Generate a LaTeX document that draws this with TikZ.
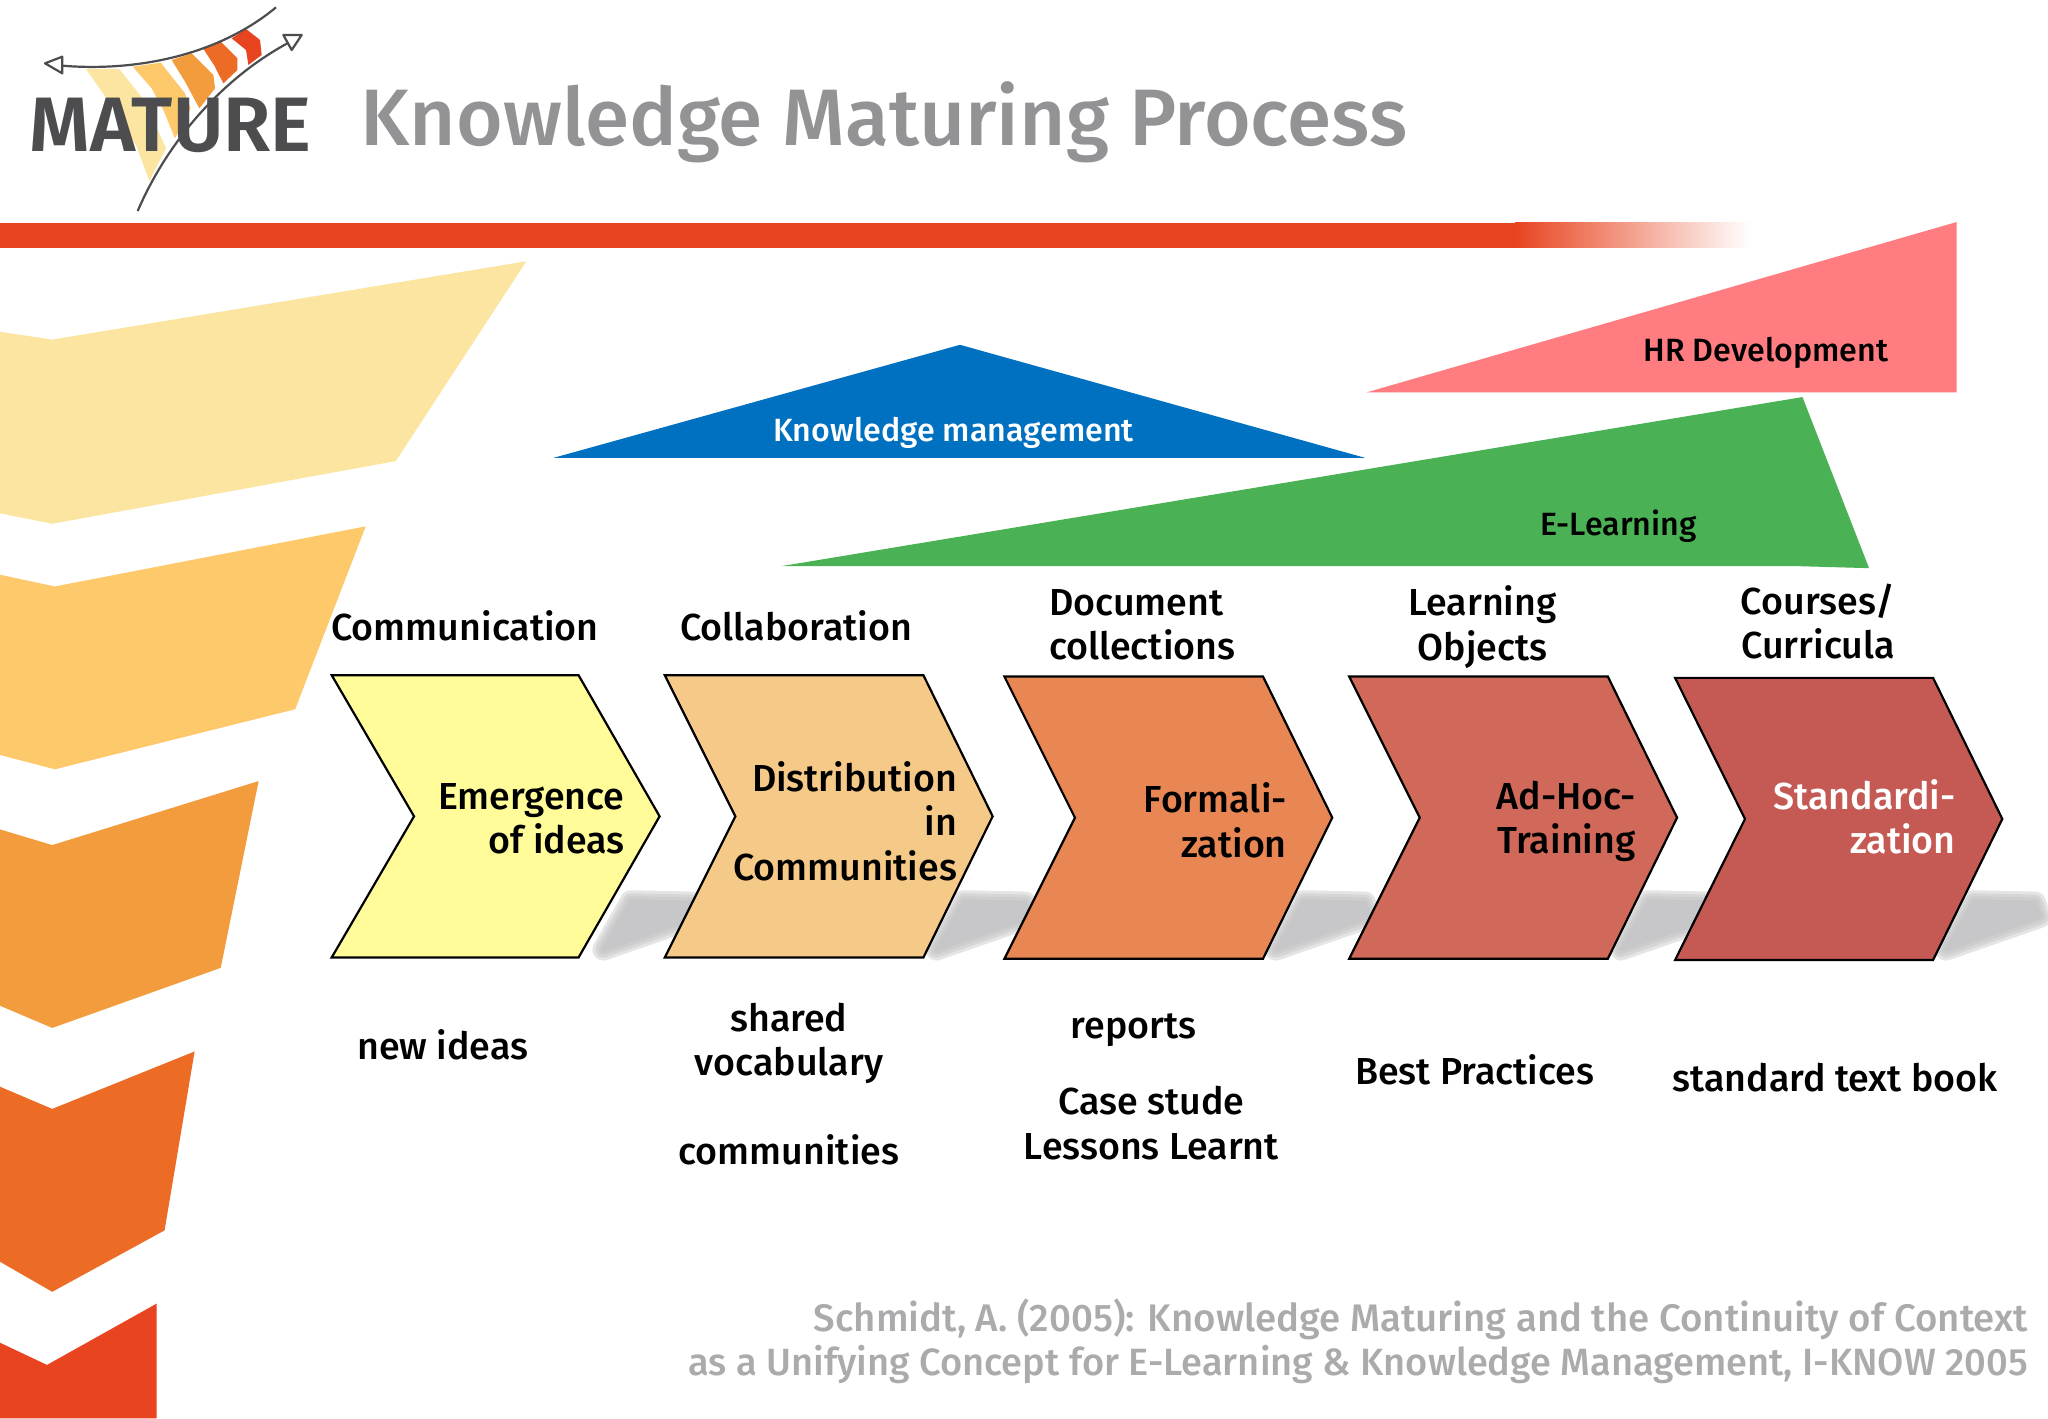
\documentclass[tikz,border=0pt]{standalone}
\usepackage{fontspec}
\setmainfont{Fira Sans}[UprightFont=* Medium,BoldFont=* SemiBold]
\definecolor{barred}{HTML}{E84420}
\definecolor{fa}{HTML}{FBE5A0}
\definecolor{fb}{HTML}{FDC96B}
\definecolor{fc}{HTML}{F39C3E}
\definecolor{fd}{HTML}{EC6B25}
\definecolor{fe}{HTML}{E8441F}
\definecolor{logogrey}{HTML}{4D4D4F}
\definecolor{titlegrey}{HTML}{939395}
\definecolor{citegrey}{HTML}{ABABAD}
\definecolor{shadowgrey}{HTML}{C0C0C2}
\definecolor{kmblue}{HTML}{0070C0}
\definecolor{hrpink}{HTML}{FF7C80}
\definecolor{elgreen}{HTML}{4AB154}
\definecolor{cha}{HTML}{FFFC99}
\definecolor{chb}{HTML}{F5C987}
\definecolor{chc}{HTML}{E88753}
\definecolor{chd}{HTML}{D0695A}
\definecolor{che}{HTML}{C55A55}
\tikzset{
  chev/.style={draw=black,line width=1.1pt,line join=miter},
  lab/.style={inner sep=0pt,font=\fontsize{18.8}{22.2}\selectfont,align=center},
  inchev/.style={inner sep=0pt,font=\fontsize{18.8}{22.2}\selectfont,align=right,anchor=east},
  tri/.style={inner sep=0pt,font=\fontsize{16.1}{19}\selectfont},
  logoline/.style={draw=logogrey,line width=1.1pt},
}
\newcommand{\shadowat}[1]{%
  \foreach \w in {11,8,5,2}{
    \begin{scope}[transparency group,opacity=.4]
    \draw[shadowgrey,fill=shadowgrey,line width=\w pt,line join=round]
      (#1-22,690) -- (#1+25,691) -- (#1+29,702) -- (#1-43,727) -- cycle;
    \end{scope}
  }}
\newcommand{\chevron}[6]{% fill, left, right(top), tip, notch, top, bottom
  \path[chev,fill=#1] (#2,#6) -- (#3,#6) -- (#4,{#6+108}) -- (#3,#6+216) -- (#2,#6+216) -- (#5,{#6+108}) -- cycle;}
\begin{document}
\begin{tikzpicture}[x=0.65306pt,y=-0.65306pt]
\useasboundingbox (0,0) rectangle (1568,1085.7);
\fill[white] (0,0) rectangle (1568,1085.7);
\begin{scope}
\clip (0,0) rectangle (1568,1085.7);
% bar
\fill[barred] (0,170.5) rectangle (1190,189.5);
\shade[left color=barred,right color=white,shading angle=90] (1160,170.5) rectangle (1340,189.5);
% funnel
\fill[fa] (0,254) -- (40,260) -- (403,200) -- (303,353) -- (40,401) -- (0,393) -- cycle;
\fill[fb] (0,440) -- (42,449) -- (280,403) -- (226,543) -- (42,589) -- (0,578) -- cycle;
\fill[fc] (0,635) -- (40,647) -- (198,598) -- (169,741) -- (40,787) -- (0,770) -- cycle;
\fill[fd] (0,832) -- (40,849) -- (149,805) -- (126,942) -- (40,989) -- (0,966) -- cycle;
\fill[fe] (0,1028) -- (36,1045) -- (120,998) -- (120,1086) -- (0,1086) -- cycle;
% shadows
\shadowat{505}\shadowat{760}\shadowat{1020}\shadowat{1284}\shadowat{1533}
\end{scope}
% triangles
\fill[kmblue] (424,350.5) -- (735,264) -- (1045,350.5) -- cycle;
\fill[hrpink] (1046,300.5) -- (1498,170) -- (1498,300.5) -- cycle;
\fill[elgreen] (598,433.5) -- (1380,304) -- (1431,435) -- (1378,433.5) -- cycle;
\node[tri,text=white] (km) at (730,331.5) {Knowledge management};
\node[tri,text=black] (hr) at (1352,270.5) {HR Development};
\node[tri,text=black] (el) at (1239,403) {E-Learning};
% chevrons
\chevron{cha}{254}{443}{505}{317}{517}
\chevron{chb}{509}{707}{760}{563}{517}
\chevron{chc}{769}{967}{1020}{823}{518}
\chevron{chd}{1033}{1231}{1284}{1087}{518}
\chevron{che}{1282.5}{1480}{1533}{1336}{519}
\node[inchev] (c1) at (478.5,627) {Emergence\\of ideas};
\node[inchev] (c2) at (733,628.5) {Distribution\\in\\Communities};
\node[inchev] (c3) at (985.5,628) {Formali-\\zation};
\node[inchev] (c4) at (1252.5,629) {Ad-Hoc-\\Training};
\node[inchev,text=white] (c5) at (1497.5,625.5) {Standardi-\\zation};
% top labels
\node[lab] (t1) at (356,479) {Communication};
\node[lab] (t2) at (609.5,479) {Collaboration};
\node[lab,align=left] (t3) at (874.5,478.5) {Document\\collections};
\node[lab] (t4) at (1135,480) {Learning\\Objects};
\node[lab] (t5) at (1392,476) {Courses/\\Curricula};
% bottom labels
\node[lab] (b1) at (339,800) {new ideas};
\node[lab] (b2) at (604,799) {shared\\vocabulary};
\node[lab] (b2b) at (604,880) {communities};
\node[lab] (b3) at (868,789) {reports};
\node[lab] (b3b) at (881.5,860) {Case stude\\Lessons Learnt};
\node[lab] (b4) at (1129,819) {Best Practices};
\node[lab] (b5) at (1405,825) {standard text book};
% title
\node[inner sep=0pt,anchor=west,text=titlegrey,font=\fontsize{40.05}{46}\selectfont] (title) at (276,94) {Knowledge Maturing Process};
\node[inner sep=0pt,anchor=east,align=right,text=citegrey,font=\fontsize{19}{22.2}\selectfont] (cite) at (1553,1027) {{\fontsize{19.2}{22.2}\selectfont Schmidt, A. (2005): Knowledge Maturing and the Continuity of Context}\\as a Unifying Concept for E-Learning \& Knowledge Management, I-KNOW 2005};
% logo
\begin{scope}[x=0.16668pt,y=-0.16668pt]
\fill[fa] (258,207) -- (358,207) -- (432,300) -- (498,445) -- (448,543) -- (410,440) -- (330,310) -- cycle;
\fill[fb] (398,200) -- (482,188) -- (555,280) -- (572,325) -- (525,415) -- (490,330) -- (455,265) -- cycle;
\fill[fc] (515,180) -- (575,160) -- (640,225) -- (645,265) -- (598,325) -- (555,245) -- cycle;
\fill[fd] (610,147) -- (662,125) -- (712,175) -- (712,210) -- (670,250) -- (642,195) -- cycle;
\fill[fe] (695,115) -- (738,87) -- (780,120) -- (785,165) -- (745,195) -- (738,150) -- cycle;
\node[inner sep=0pt,anchor=center,text=logogrey,font=\fontsize{38.6}{42}\bfseries\selectfont] (logo) at (512,375) {MATURE};
\draw[logoline] (187,197) .. controls (400,215) and (650,170) .. (828,22);
\draw[logoline] (413,633) .. controls (500,430) and (660,240) .. (862,130);
\draw[logoline,fill=white,line join=round] (135,190) -- (187,170) -- (187,220) -- cycle;
\draw[logoline,fill=white,line join=round] (905,105) -- (850,105) -- (875,150) -- cycle;
\end{scope}
\end{tikzpicture}
\end{document}
